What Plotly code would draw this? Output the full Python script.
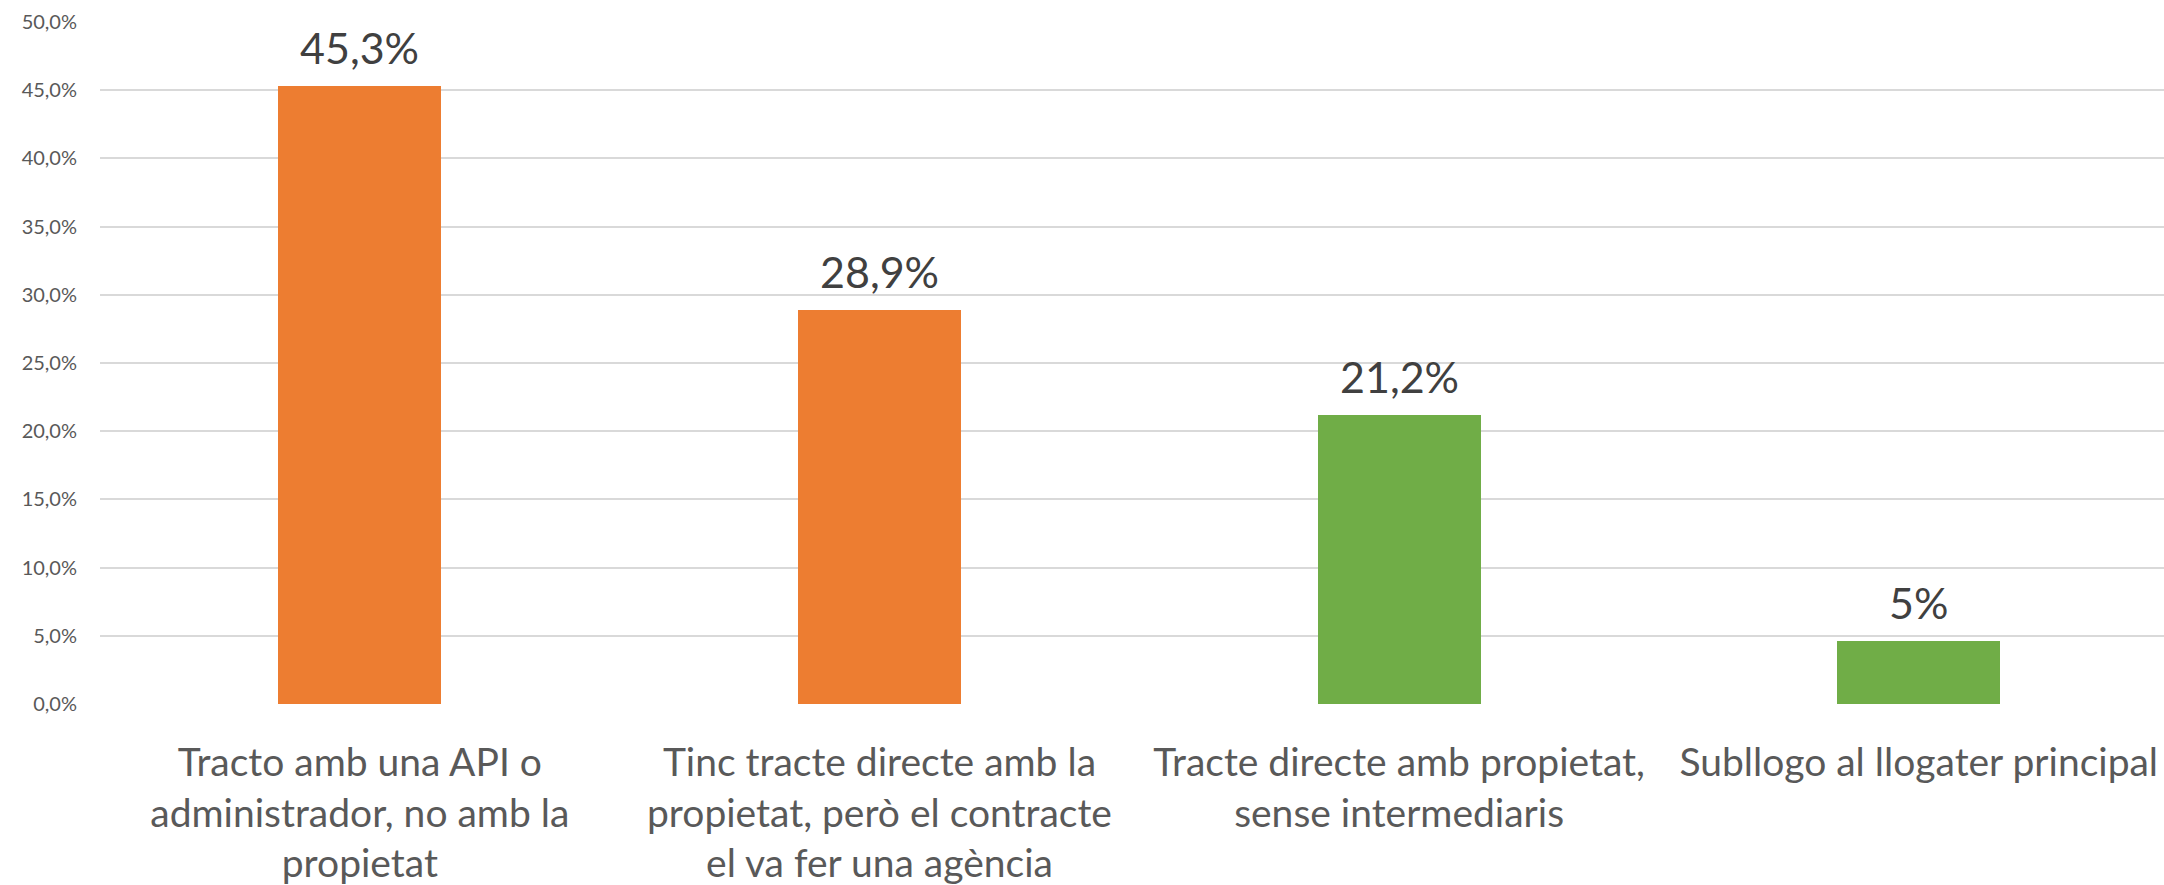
import plotly.graph_objects as go

categories = [
    "Tracto amb una API o<br>administrador, no amb la<br>propietat",
    "Tinc tracte directe amb la<br>propietat, però el contracte<br>el va fer una agència",
    "Tracte directe amb propietat,<br>sense intermediaris",
    "Subllogo al llogater principal",
]
values = [45.3, 28.9, 21.2, 4.6]
decimals = [1, 1, 1, 0]
colors = ["#ED7D31", "#ED7D31", "#70AD47", "#70AD47"]
y_ticks = [0, 5, 10, 15, 20, 25, 30, 35, 40, 45, 50]
y_tick_labels = [f"{t:.1f}%".replace(".", ",") for t in y_ticks]

FONT = "Lato"

fig = go.Figure(
    go.Bar(
        x=list(range(len(categories))),
        y=values,
        marker=dict(color=colors, line=dict(width=0)),
        width=0.314,
        hoverinfo="skip",
    )
)

for i, (v, d) in enumerate(zip(values, decimals)):
    label = f"{v:.{d}f}%".replace(".", ",")
    fig.add_annotation(
        x=i, y=v, text=label, showarrow=False,
        yanchor="bottom", yshift=11,
        font=dict(family=FONT, size=43, color="#404040"),
    )

fig.update_layout(
    width=2164, height=885,
    margin=dict(l=100, r=0, t=22, b=181),
    paper_bgcolor="white", plot_bgcolor="white",
    showlegend=False,
    bargap=0,
    xaxis=dict(
        range=[-0.5, 3.472],
        tickmode="array",
        tickvals=list(range(len(categories))),
        ticktext=categories,
        tickangle=0,
        showgrid=False, zeroline=False, showline=False,
        ticks="", ticklabelstandoff=32,
        tickfont=dict(family=FONT, size=39, color="#595959"),
    ),
    yaxis=dict(
        range=[0, 50],
        tickmode="array",
        tickvals=y_ticks,
        ticktext=y_tick_labels,
        showgrid=True, gridcolor="#D9D9D9", gridwidth=2,
        zeroline=False, showline=False,
        ticks="", ticklabelstandoff=22,
        tickfont=dict(family=FONT, size=20, color="#595959"),
    ),
)

fig.write_html("out.html")
